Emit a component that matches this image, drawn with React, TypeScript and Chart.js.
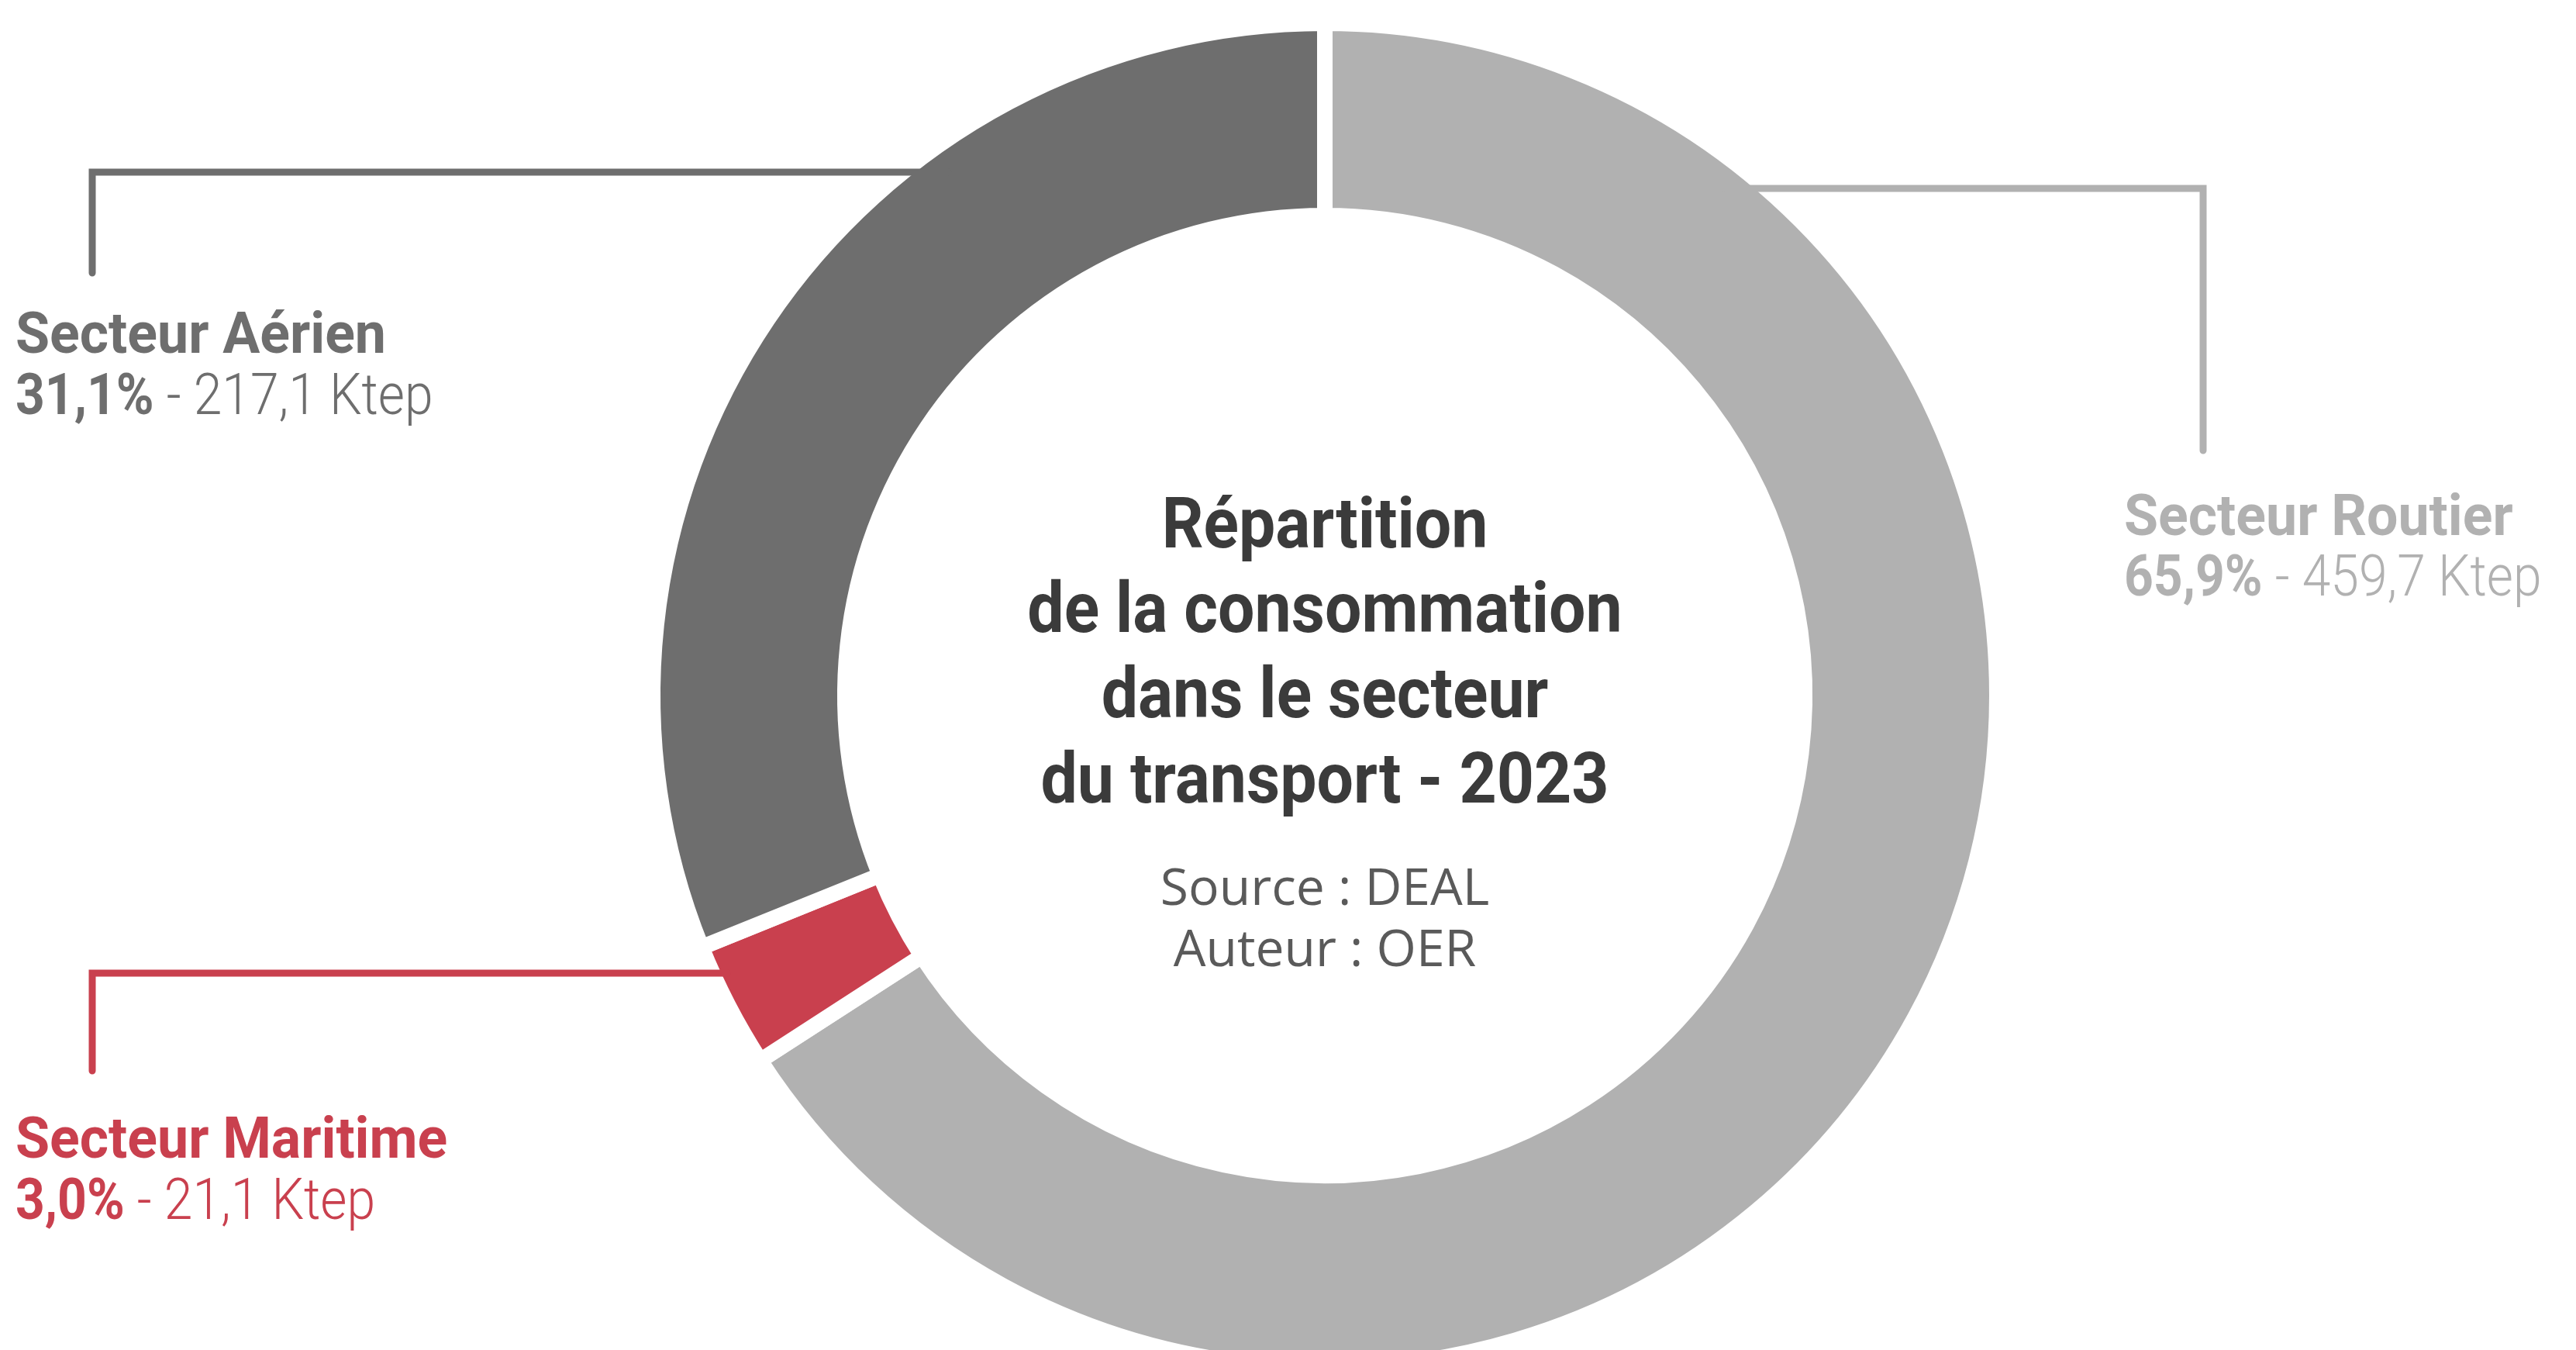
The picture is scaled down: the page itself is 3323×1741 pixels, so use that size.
import React, { useEffect, useRef } from 'react';
import { Chart, registerables } from 'chart.js';

Chart.register(...registerables);

// ---- Data ----
const categories = ['Secteur Routier', 'Secteur Maritime', 'Secteur Aérien'];
const valuesKtep = [459.7, 21.1, 217.1];
const sliceColors = ['#b1b1b1', '#c9404e', '#6e6e6e'];
const titleLines = ['Répartition', 'de la consommation', 'dans le secteur', 'du transport - 2023'];
const sourceLines = ['Source : DEAL', 'Auteur : OER'];

// ---- Layout (positions of annotations, in canvas pixels) ----
const CANVAS_W = 3323;
const CANVAS_H = 1800;

type LabelLayout = { path: number[][]; x: number; y1: number; y2: number };
const labelLayouts: LabelLayout[] = [
  { path: [[2225, 243], [2842, 243], [2842, 581]], x: 2740, y1: 690, y2: 768 },
  { path: [[938, 1255], [119, 1255], [119, 1381]], x: 20, y1: 1493, y2: 1572 },
  { path: [[1223, 222], [119, 222], [119, 352]], x: 20, y1: 455, y2: 534 },
];

const fmt = (v: number) => v.toFixed(1).replace('.', ',');

function drawScaled(ctx: CanvasRenderingContext2D, text: string, x: number, y: number, sx: number, align: CanvasTextAlign) {
  ctx.save();
  ctx.translate(x, y);
  ctx.scale(sx, 1);
  ctx.textAlign = align;
  ctx.fillText(text, 0, 0);
  ctx.restore();
}

const annotationPlugin = {
  id: 'annotations',
  afterDatasetsDraw(chart: any) {
    const ctx: CanvasRenderingContext2D = chart.ctx;
    const meta = chart.getDatasetMeta(0);
    const arc = meta.data[0];
    const cx = arc.x;
    const cy = arc.y;
    const total = valuesKtep.reduce((a, b) => a + b, 0);

    ctx.save();
    ctx.textBaseline = 'alphabetic';

    // Title in the hole
    ctx.fillStyle = '#3b3b3b';
    ctx.font = 'bold 90px Roboto';
    const titleOffsets = [-191, -82, 28, 138];
    titleLines.forEach((t, i) => drawScaled(ctx, t, cx, cy + titleOffsets[i], 0.935, 'center'));

    ctx.fillStyle = '#5a5a5a';
    ctx.font = '400 66px "Open Sans"';
    const srcOffsets = [270, 349];
    sourceLines.forEach((t, i) => drawScaled(ctx, t, cx, cy + srcOffsets[i], 1, 'center'));

    // Labels with leader lines
    categories.forEach((name, i) => {
      const lay = labelLayouts[i];
      const color = sliceColors[i];
      ctx.strokeStyle = color;
      ctx.lineWidth = 9;
      ctx.lineCap = 'round';
      ctx.lineJoin = 'miter';
      ctx.beginPath();
      lay.path.forEach((p, k) => (k === 0 ? ctx.moveTo(p[0], p[1]) : ctx.lineTo(p[0], p[1])));
      ctx.stroke();

      ctx.fillStyle = color;
      ctx.font = 'bold 75px Roboto';
      drawScaled(ctx, name, lay.x, lay.y1, 0.955, 'left');

      const pct = fmt((valuesKtep[i] / total) * 100) + '%';
      const rest = ' - ' + fmt(valuesKtep[i]) + ' Ktep';
      const sx2 = 0.88;
      ctx.font = 'bold 75px Roboto';
      drawScaled(ctx, pct, lay.x, lay.y2, sx2, 'left');
      const w = ctx.measureText(pct).width * sx2;
      ctx.font = '300 75px Roboto';
      drawScaled(ctx, rest, lay.x + w, lay.y2, sx2, 'left');
    });

    ctx.restore();
  },
};

export default function App() {
  const canvasRef = useRef<HTMLCanvasElement | null>(null);

  useEffect(() => {
    const canvas = canvasRef.current;
    if (!canvas) return;
    const chart = new Chart(canvas, {
      type: 'doughnut',
      data: {
        labels: categories,
        datasets: [
          {
            data: valuesKtep,
            backgroundColor: sliceColors,
            borderColor: '#ffffff',
            borderWidth: 20,
            borderAlign: 'center',
            hoverOffset: 0,
          } as any,
        ],
      },
      options: {
        responsive: false,
        animation: false,
        events: [],
        cutout: '71.4%',
        rotation: 0,
        layout: { padding: { left: 832, right: 737, top: 20, bottom: 26 } },
        plugins: {
          legend: { display: false },
          tooltip: { enabled: false },
          title: { display: false },
        },
      } as any,
      plugins: [annotationPlugin],
    });
    let alive = true;
    if ((document as any).fonts && (document as any).fonts.ready) {
      (document as any).fonts.ready.then(() => {
        if (alive) chart.draw();
      });
    }
    return () => {
      alive = false;
      chart.destroy();
    };
  }, []);

  return (
    <div
      style={{
        position: 'fixed',
        left: 0,
        top: 0,
        width: CANVAS_W,
        height: CANVAS_H,
        background: '#ffffff',
        overflow: 'hidden',
      }}
    >
      <canvas
        ref={canvasRef}
        width={CANVAS_W}
        height={CANVAS_H}
        style={{ display: 'block', width: CANVAS_W, height: CANVAS_H }}
      />
    </div>
  );
}
